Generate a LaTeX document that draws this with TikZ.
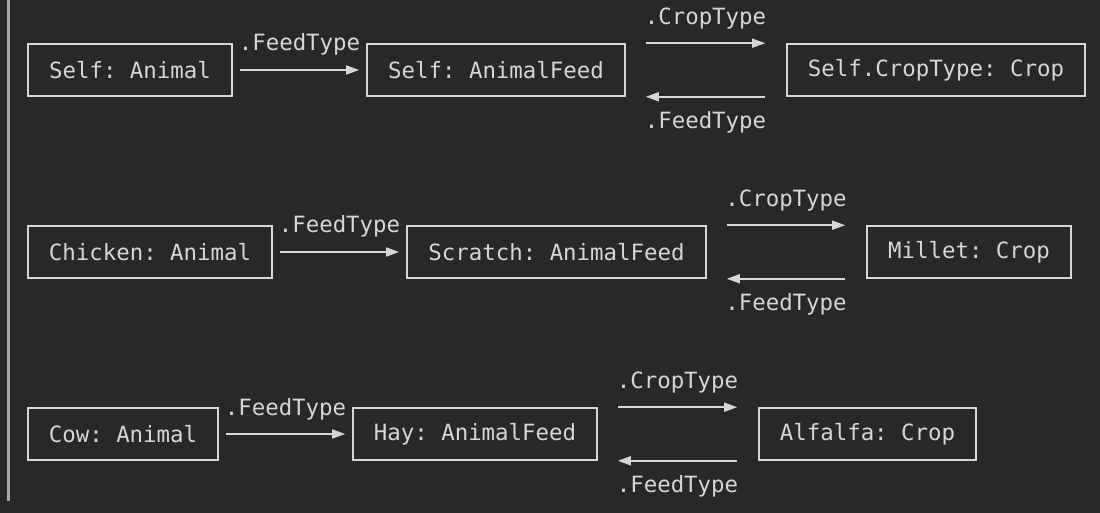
\documentclass[tikz,border=0pt]{standalone}
\usepackage{fontspec}
\setmainfont{DejaVu Sans Mono}
\usetikzlibrary{arrows.meta}
\definecolor{bg}{HTML}{282828}
\definecolor{fg}{HTML}{D6D6D6}
\definecolor{bar}{HTML}{A8A8A8}
\frenchspacing
\begin{document}
\begin{tikzpicture}[x=1pt,y=-1pt,
  every node/.style={text=fg,font=\fontsize{22.4}{26}\selectfont\frenchspacing},
  box/.style={draw=fg,line width=1.6pt,rectangle,minimum height=52pt,inner sep=0pt},
  conn/.style={draw=fg,line width=1.6pt,-{Triangle[length=13pt,width=9pt]}},
  lab/.style={anchor=base,inner sep=0pt}]
\useasboundingbox (0,0) rectangle (1100,513);
\fill[bg] (0,0) rectangle (1100,513);
\draw[bar,line width=2.5pt] (8.5,0) -- (8.5,501);
% row 1
\node[box,minimum width=204pt] (a1) at (130,70) {Self: Animal};
\node[box,minimum width=258pt] (b1) at (496,70) {Self: AnimalFeed};
\node[box,minimum width=298pt] (c1) at (936,70) {Self.CropType: Crop};
% row 2
\node[box,minimum width=244pt] (a2) at (150,252) {Chicken: Animal};
\node[box,minimum width=299pt] (b2) at (556.5,252) {Scratch: AnimalFeed};
\node[box,minimum width=204pt] (c2) at (969,252) {Millet: Crop};
% row 3
\node[box,minimum width=190pt] (a3) at (123,434) {Cow: Animal};
\node[box,minimum width=244pt] (b3) at (475,434) {Hay: AnimalFeed};
\node[box,minimum width=217pt] (c3) at (867.5,434) {Alfalfa: Crop};
\foreach \r in {1,2,3}{
  \draw[conn,shorten <=7pt,shorten >=7pt] (a\r.east) -- node[lab,yshift=19pt]{.FeedType} (b\r.west);
  \draw[conn] ([xshift=20pt]b\r.north east) -- node[lab,yshift=19pt]{.CropType} ([xshift=-21pt]c\r.north west);
  \draw[conn] ([xshift=-21pt]c\r.south west) -- node[lab,yshift=-32pt]{.FeedType} ([xshift=20pt]b\r.south east);
}
\end{tikzpicture}
\end{document}
